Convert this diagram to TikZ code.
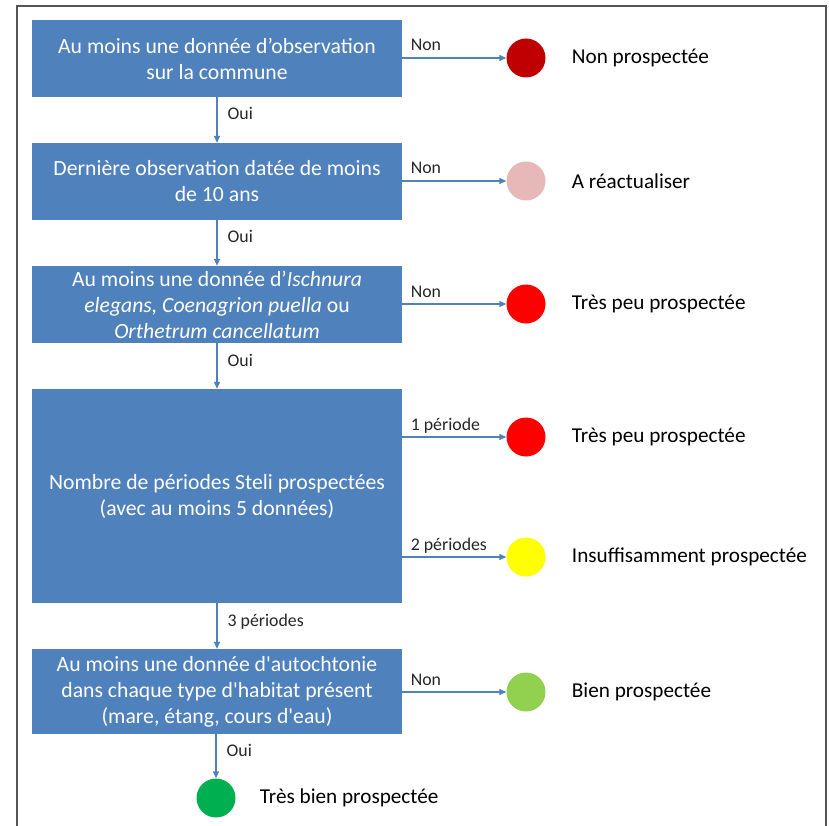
\documentclass[tikz,border=0pt]{standalone}
\usepackage{fontspec}
\setmainfont{Carlito}[Ligatures=TeXOff]
\usepackage{xcolor}
\usepackage{tikz}
\usetikzlibrary{positioning,arrows.meta}

\definecolor{bleuboite}{HTML}{4F81BD}
\definecolor{rougefonce}{HTML}{C00000}
\definecolor{rose}{HTML}{E6B9B8}
\definecolor{rouge}{HTML}{FF0000}
\definecolor{jaune}{HTML}{FFFF00}
\definecolor{vertclair}{HTML}{92D050}
\definecolor{vert}{HTML}{00B050}
\definecolor{gristrait}{HTML}{555555}

\tikzset{
    boite/.style={fill=bleuboite, text=white, minimum width=370pt, inner sep=0pt,
        align=center, font=\fontsize{21.7}{26}\selectfont},
    pastille/.style={circle, minimum size=39pt, inner sep=0pt},
    etat/.style={anchor=west, inner sep=0pt, font=\fontsize{21.2}{26}\selectfont},
    etiq/.style={inner sep=0pt, text=black!85, font=\fontsize{17.8}{21}\selectfont},
    fleche/.style={draw=bleuboite, line width=1.3pt, -{Triangle[length=7pt,width=6pt]}},
}

\begin{document}
\begin{tikzpicture}[x=1pt,y=-1pt]
    \useasboundingbox (0,0) rectangle (829,826);
    % Cadre
    \draw[gristrait, line width=1.3pt] (17,826) -- (17,6) -- (826,6) -- (826,826);

    % Questions
    \node[boite, minimum height=77pt] (q1) at (217,58.5) {Au moins une donnée d’observation\\sur la commune};
    \node[boite, minimum height=77pt] (q2) at (217,181.5) {Dernière observation datée de moins\\de 10 ans};
    \node[boite, minimum height=77pt] (q3) at (217,304.5) {Au moins une donnée d’\textit{Ischnura}\\\textit{elegans, Coenagrion puella} ou\\\textit{Orthetrum cancellatum}};
    \node[boite, minimum height=214pt] (q4) at (217,496) {Nombre de périodes Steli prospectées\\(avec au moins 5 données)};
    \node[boite, minimum height=85pt] (q5) at (217,691.5) {Au moins une donnée d'autochtonie\\dans chaque type d'habitat présent\\(mare, étang, cours d'eau)};

    % Resultats
    \node[pastille, fill=rougefonce] (c1) at (526,58) {};
    \node[pastille, fill=rose] (c2) at (526,181) {};
    \node[pastille, fill=rouge] (c3) at (526,304) {};
    \node[pastille, fill=rouge] (c4) at (526,437) {};
    \node[pastille, fill=jaune] (c5) at (526,557) {};
    \node[pastille, fill=vertclair] (c6) at (526,692) {};
    \node[pastille, fill=vert] (c7) at (216,798) {};

    \node[etat, right=26pt of c1] (e1) {Non prospectée};
    \node[etat, right=26pt of c2] (e2) {A réactualiser};
    \node[etat, right=26pt of c3] (e3) {Très peu prospectée};
    \node[etat, right=26pt of c4] (e4) {Très peu prospectée};
    \node[etat, right=26pt of c5] (e5) {Insuffisamment prospectée};
    \node[etat, right=26pt of c6] (e6) {Bien prospectée};
    \node[etat, right=24pt of c7] (e7) {Très bien prospectée};

    % Fleches verticales
    \draw[fleche] (q1) -- (q2) node[etiq, midway, anchor=base west, xshift=10pt] {Oui};
    \draw[fleche] (q2) -- (q3) node[etiq, midway, anchor=base west, xshift=10pt] {Oui};
    \draw[fleche] (q3) -- (q4) node[etiq, midway, anchor=base west, xshift=10pt] {Oui};
    \draw[fleche] (q4) -- (q5) node[etiq, midway, anchor=base west, xshift=10pt] {3 périodes};
    \draw[fleche] (q5.south -| c7) -- (c7) node[etiq, midway, anchor=base west, xshift=10pt] {Oui};

    % Fleches horizontales
    \draw[fleche] (q1.east |- c1) -- (c1) node[etiq, pos=0, anchor=base west, xshift=8pt, yshift=7pt] {Non};
    \draw[fleche] (q2.east |- c2) -- (c2) node[etiq, pos=0, anchor=base west, xshift=8pt, yshift=7pt] {Non};
    \draw[fleche] (q3.east |- c3) -- (c3) node[etiq, pos=0, anchor=base west, xshift=8pt, yshift=7pt] {Non};
    \draw[fleche] (q4.east |- c4) -- (c4) node[etiq, pos=0, anchor=base west, xshift=8pt, yshift=7pt] {1 période};
    \draw[fleche] (q4.east |- c5) -- (c5) node[etiq, pos=0, anchor=base west, xshift=8pt, yshift=7pt] {2 périodes};
    \draw[fleche] (q5.east |- c6) -- (c6) node[etiq, pos=0, anchor=base west, xshift=8pt, yshift=7pt] {Non};
\end{tikzpicture}
\end{document}
